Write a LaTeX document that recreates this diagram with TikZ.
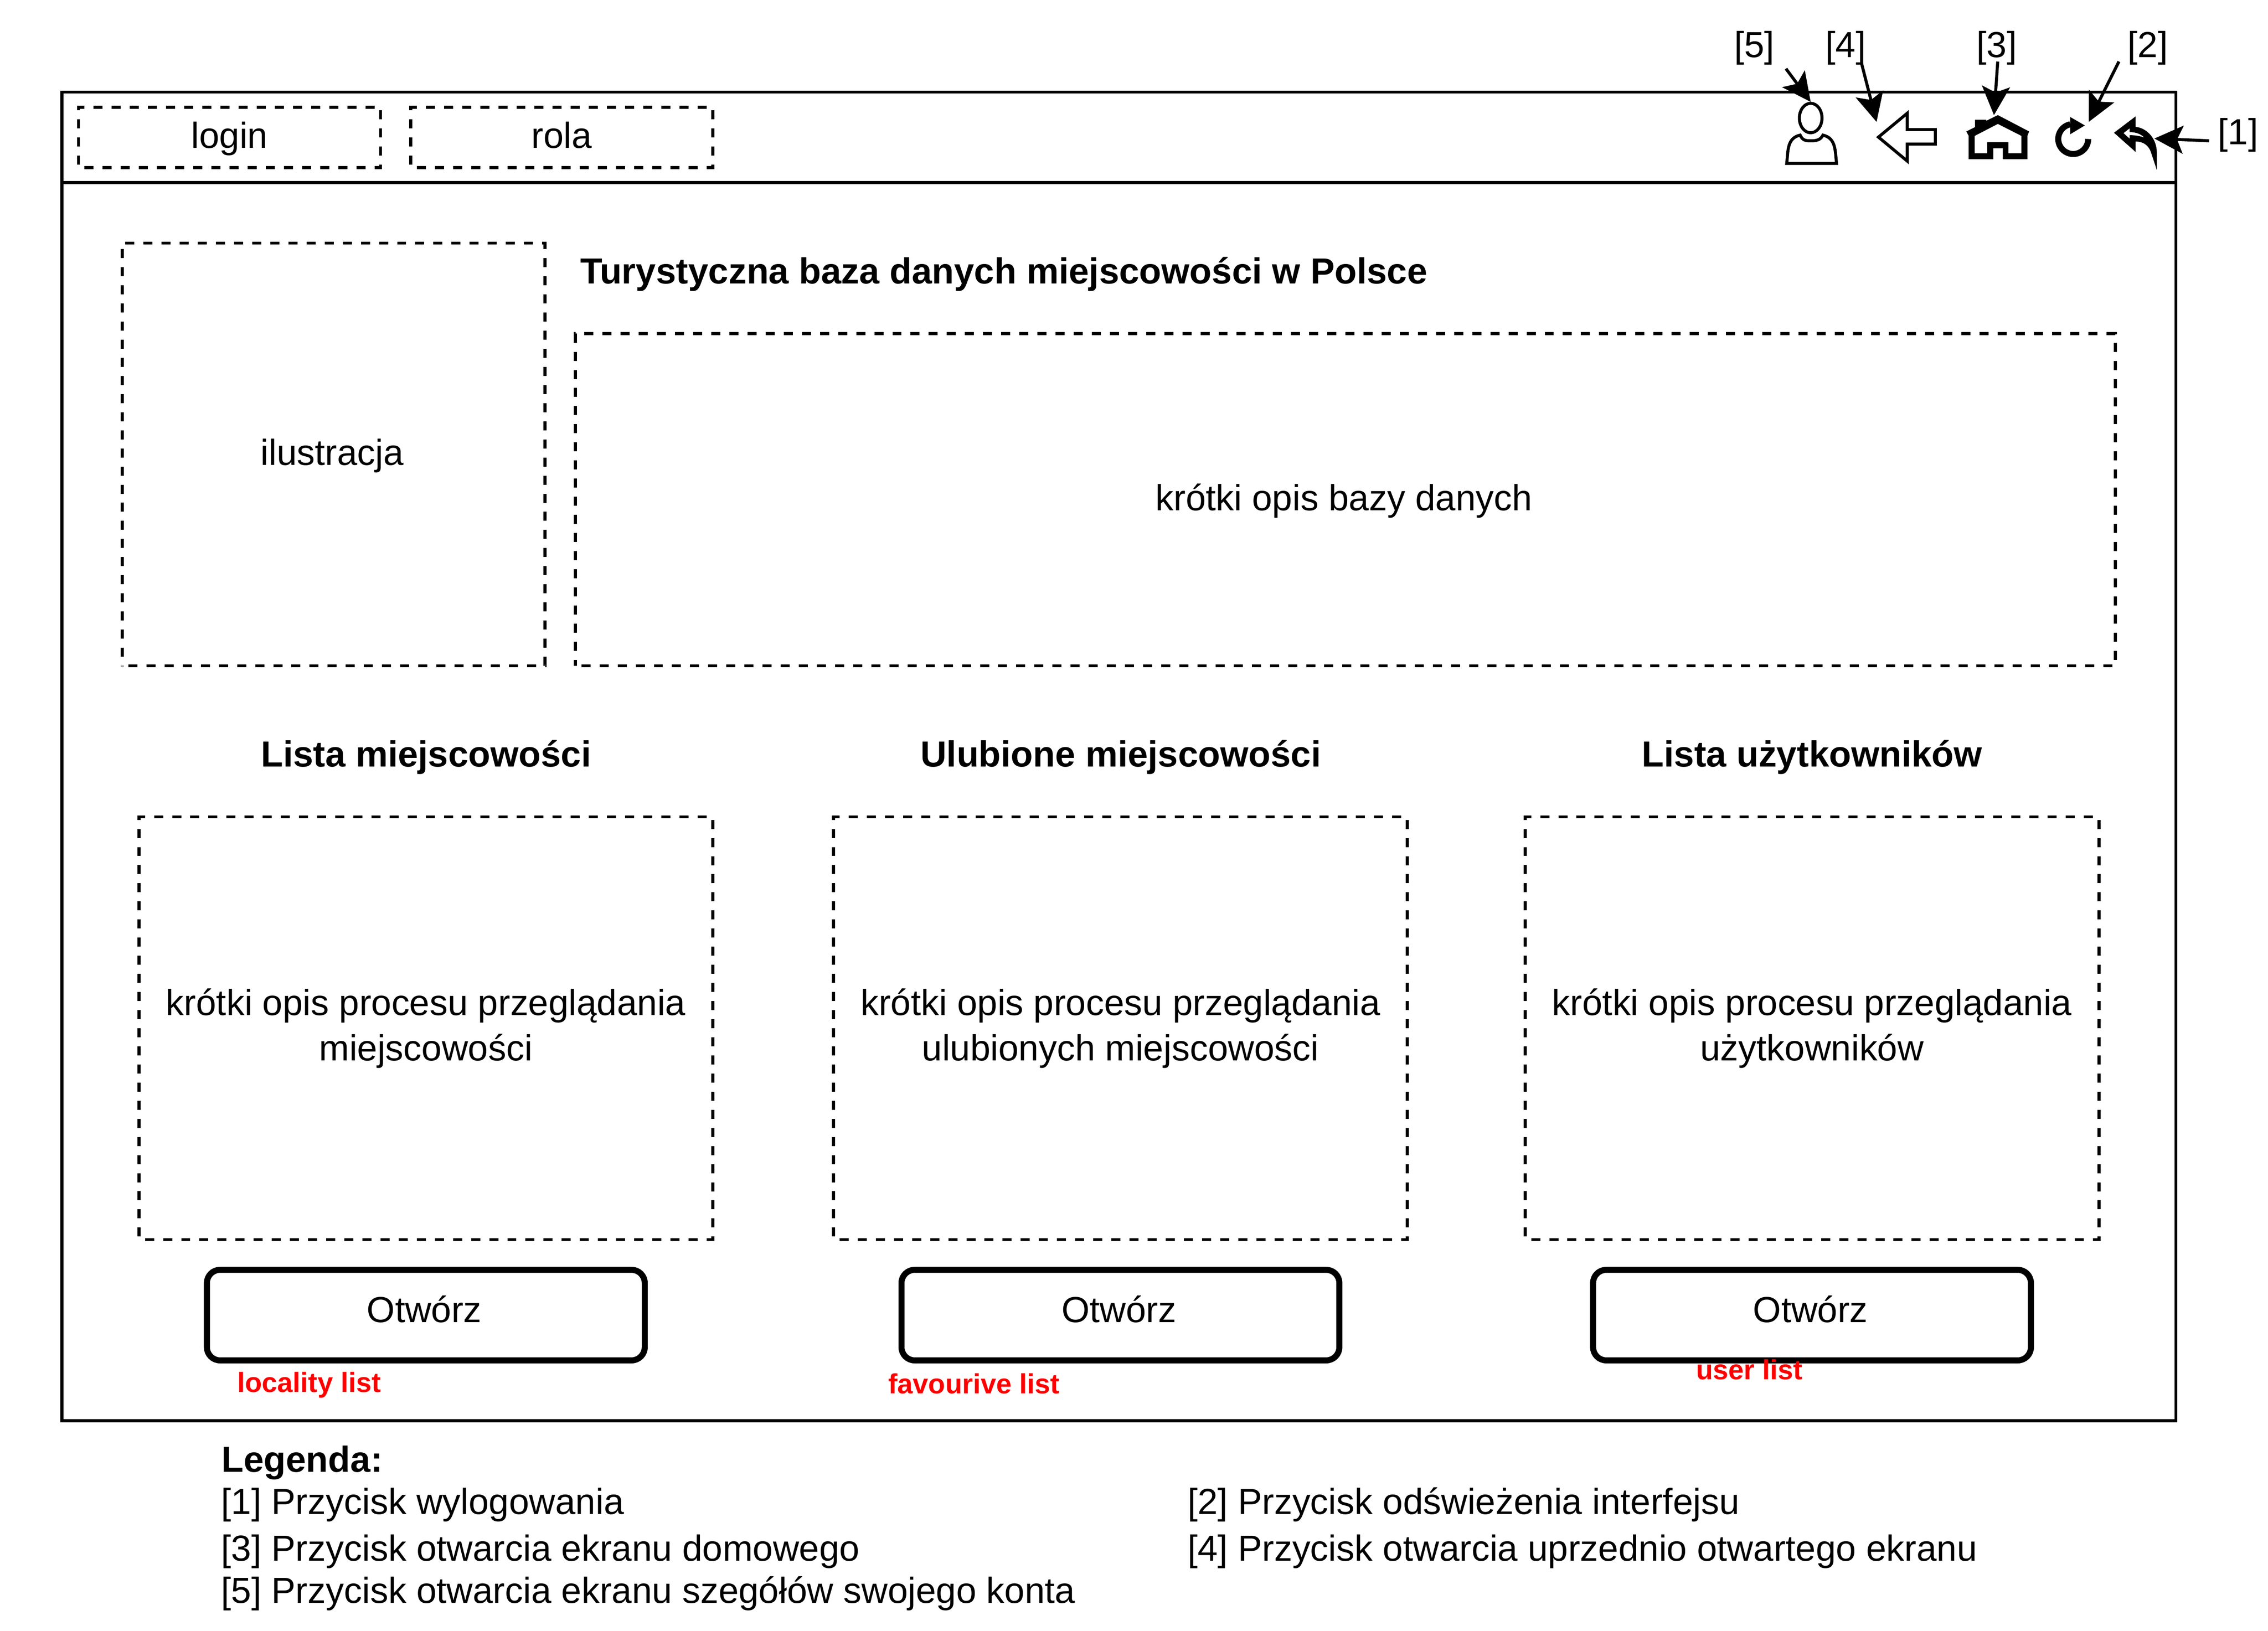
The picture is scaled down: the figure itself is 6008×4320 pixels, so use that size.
\documentclass[tikz,border=0pt]{standalone}
\usepackage{fontspec}
\setmainfont{Liberation Sans}
\usetikzlibrary{arrows.meta,shapes.geometric}
\newcommand{\lnstrut}{\rule[-2pt]{0pt}{8.4pt}}
\tikzset{
  every node/.style={inner sep=0pt,outer sep=0pt},
  thin line/.style={draw=black,line width=0.8pt},
  body text/.style={font=\fontsize{9.6}{12}\selectfont},
  head text/.style={font=\fontsize{9.6}{12}\selectfont\bfseries},
  red text/.style={font=\fontsize{7.35}{9}\selectfont\bfseries,text=red},
  single/.style={text height=7pt,text depth=1.4pt},
  dbox/.style={draw=black,line width=0.8pt,dash pattern=on 2.4pt off 2.4pt,dash phase=3.2pt,body text,align=center},
  topbox/.style={dbox,single,minimum width=80pt,minimum height=16pt},
  descbox/.style={dbox,minimum width=152pt,minimum height=112pt},
  openbtn/.style={draw=black,line width=1.6pt,rounded corners=3.5pt,body text,text height=6pt,text depth=2.2pt,minimum width=116pt,minimum height=24pt},
  callout/.style={-{Stealth[length=7.6pt,width=7.4pt,inset=1.6pt]},line width=0.8pt},
  icon/.style={draw=black,line width=0.8pt,fill=white,line join=miter},
  solid icon/.style={fill=black,even odd rule},
  txt/.style={anchor=base west,body text},
  bold/.style={anchor=base,head text},
}
\begin{document}
\begin{tikzpicture}[x=0.1pt,y=-0.1pt]
\useasboundingbox (0,0) rectangle (6008,4320);
% window
\node[thin line,minimum width=560pt,minimum height=352pt] (frame) at (2964,2004) {};
\coordinate (barL) at (164,484);
\coordinate (barR) at (5764,484);
\draw[thin line] (barL) -- (barR);
% top boxes
\node[topbox] (login) at (608,364) {login};
\node[topbox] (rola) at (1488,364) {rola};
\node[dbox,single,minimum width=112pt,minimum height=112pt] (ilu) at (884,1204) {ilustracja\kern.8pt};
\node[dbox,single,minimum width=408pt,minimum height=88pt] (opis) at (3564,1324) {krótki opis bazy danych\kern.8pt};
\node[anchor=base west,head text] (title) at (1537,752) {Turystyczna baza danych miejscowości w Polsce};
% columns
\node[bold] (h1) at (1129,2031) {Lista miejscowości};
\node[bold] (h2) at (2969,2031) {Ulubione miejscowości};
\node[bold] (h3) at (4800,2031) {Lista użytkowników};
\node[descbox] (d1) at (1128,2724) {\lnstrut krótki opis procesu przeglądania\\\lnstrut miejscowości};
\node[descbox] (d2) at (2968,2724) {\lnstrut krótki opis procesu przeglądania\\\lnstrut ulubionych miejscowości};
\node[descbox] (d3) at (4800,2724) {\lnstrut krótki opis procesu przeglądania\\\lnstrut użytkowników};
\node[openbtn] (b1) at (1128,3484) {Otwórz\kern.8pt};
\node[openbtn] (b2) at (2968,3484) {Otwórz\kern.8pt};
\node[openbtn] (b3) at (4800,3484) {Otwórz\kern.8pt};
\node[anchor=base west,red text] (r1) at (629,3688) {locality list};
\node[anchor=base west,red text] (r2) at (2353,3692) {favourive list};
\node[anchor=base west,red text] (r3) at (4493,3655) {user list};
% legend
\node[anchor=base west,head text] (leg) at (587,3900) {Legenda:};
\node[txt] (l1) at (586,4012) {[1] Przycisk wylogowania};
\node[txt] (l3) at (586,4135) {[3] Przycisk otwarcia ekranu domowego};
\node[txt] (l5) at (586,4247) {[5] Przycisk otwarcia ekranu szegółów swojego konta};
\node[txt] (l2) at (3146,4012) {[2] Przycisk odświeżenia interfejsu};
\node[txt] (l4) at (3146,4135) {[4] Przycisk otwarcia uprzednio otwartego ekranu};
% icon labels
\node[txt] (n5) at (4594,152) {[5]};
\node[txt] (n4) at (4836,152) {[4]};
\node[txt] (n3) at (5236,152) {[3]};
\node[txt] (n2) at (5636,152) {[2]};
\node[txt] (n1) at (5875,383) {[1]};
% person icon
\node[icon,ellipse,minimum width=6pt,minimum height=7.8pt] (headc) at (4796.5,312.7) {};
\draw[thin line] (4733,433) -- (4865,433) .. controls (4861,400) and (4864,366) .. (4829,358)
  .. controls (4822,372) and (4810,373) .. (4796.5,373)
  .. controls (4783,373) and (4775,372) .. (4768.6,358)
  .. controls (4733,366) and (4737,400) .. cycle;
% back arrow
\draw[icon] (4976,363.3) -- (5052.3,300) -- (5052.3,343.3) -- (5126.7,343.3) -- (5126.7,381.7) -- (5052.3,381.7) -- (5052.3,426.7) -- cycle;
% house
\fill[solid icon] (5292.3,305) -- (5375.1,348.3) -- (5370.5,360) -- (5370.5,421.7) -- (5305.3,421.7) -- (5305.3,392.7) -- (5280.2,392.7) -- (5280.2,421.7) -- (5215.1,421.7) -- (5215.1,360) -- (5208.6,348.3) -- (5231.9,336.7) -- (5231.9,317.3) -- (5261.6,317.3) -- (5261.6,320) -- cycle
  (5292.3,328.3) -- (5354.7,360) -- (5354.7,406) -- (5320.2,406) -- (5320.2,376.7) -- (5264.4,376.7) -- (5264.4,406) -- (5231,406) -- (5231,360) -- cycle;
% refresh
\draw[line width=1.6pt] (5484,329.4) arc[start angle=101.6,end angle=360,radius=3.97pt];
\fill[black] (5484,310) -- (5522.7,332.3) -- (5484,355.7) -- cycle;
% logout
\fill[solid icon] (5600,351.7) -- (5657.3,308.3) -- (5657.3,336) .. controls (5690,340) and (5713.3,370) .. (5713.3,403.3) -- (5713.3,450) -- (5696.7,400) .. controls (5690,385) and (5678,375) .. (5657.3,375) -- (5657.3,402.7) -- cycle
  (5625,352.7) -- (5641.3,340) -- (5641.3,350) .. controls (5660,350) and (5672,356) .. (5680,364.3) .. controls (5668,360) and (5655,358) .. (5641.3,358.3) -- (5641.3,367.3) -- cycle;
% callouts
\coordinate (s5) at (4731,182); \coordinate (e5) at (4796.5,270);
\coordinate (s4) at (4931,167); \coordinate (e4) at (4971,323);
\coordinate (s3) at (5292,163); \coordinate (e3) at (5282,305);
\coordinate (s2) at (5613,163); \coordinate (e2) at (5533,323);
\coordinate (s1) at (5852,373); \coordinate (e1) at (5707,367);
\draw[callout] (s5) -- (e5);
\draw[callout] (s4) -- (e4);
\draw[callout] (s3) -- (e3);
\draw[callout] (s2) -- (e2);
\draw[callout] (s1) -- (e1);
\end{tikzpicture}
\end{document}
